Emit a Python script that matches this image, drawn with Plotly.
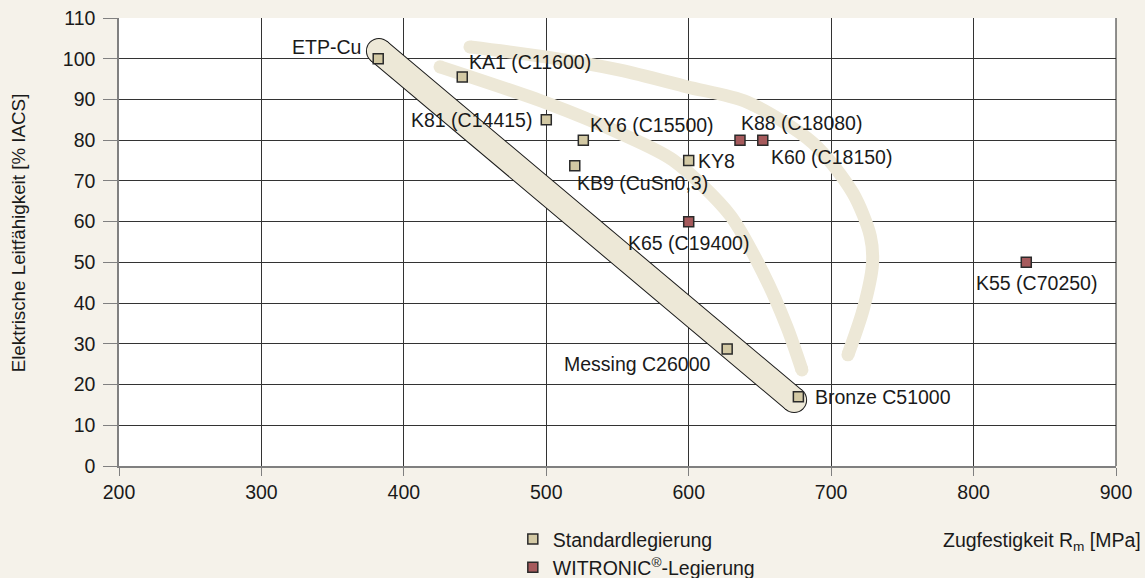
import plotly.graph_objects as go

# ---------------- data ----------------
std_names = ["ETP-Cu", "KA1 (C11600)", "K81 (C14415)", "KY6 (C15500)", "KB9 (CuSn0,3)",
             "KY8", "Messing C26000", "Bronze C51000"]
std_rm = [382, 441, 500, 526, 520, 600, 627, 677]
std_iacs = [100, 95.5, 85, 80, 73.7, 75, 28.7, 17]

wit_names = ["K88 (C18080)", "K60 (C18150)", "K65 (C19400)", "K55 (C70250)"]
wit_rm = [636, 652, 600, 837]
wit_iacs = [80, 80, 60, 50]

# decorative guide bands (data coordinates)
capsule_x = [382.5, 674]
capsule_y = [101.9, 16.2]
arc_inner_x = [425.4, 500.5, 551.8, 589.0, 629.0, 652.2, 669.0, 679.5]
arc_inner_y = [98.0, 89.1, 81.7, 75.1, 61.6, 47.4, 34.1, 23.6]
arc_outer_x = [446.4, 500.5, 551.8, 598.8, 640.9, 687.3, 715.3, 727.5, 729.0, 722.4, 711.8]
arc_outer_y = [102.9, 100.4, 97.2, 93.1, 89.4, 79.3, 67.0, 56.5, 49.5, 38.3, 27.3]

x_ticks = [200, 300, 400, 500, 600, 700, 800, 900]
y_ticks = list(range(0, 111, 10))

# ---------------- style ----------------
FONT = "Liberation Sans, Arial, sans-serif"
FS = 19.5
TXT = "#1a1a1a"
BAND = "#EDE8D7"
STD_COL = "#D3C9A4"
WIT_COL = "#A65A5C"
EDGE = "#2a2a2a"

label_pos = {
    "ETP-Cu": ("right", -15, 12),
    "KA1 (C11600)": ("left", 5, 15),
    "K81 (C14415)": ("right", -12, 0),
    "KY6 (C15500)": ("left", 5, 15),
    "KB9 (CuSn0,3)": ("left", 0, -17),
    "KY8": ("left", 7, 0),
    "Messing C26000": ("right", -15, -15),
    "Bronze C51000": ("left", 15, 0),
    "K88 (C18080)": ("left", -1, 17),
    "K60 (C18150)": ("left", 6, -17),
    "K65 (C19400)": ("center", 0, -21),
    "K55 (C70250)": ("center", 10, -21),
}

fig = go.Figure()

# capsule band with thin black outline
fig.add_trace(go.Scatter(x=capsule_x, y=capsule_y, mode="lines+markers",
                         line=dict(color="#1a1a1a", width=26),
                         marker=dict(color="#1a1a1a", size=26, symbol="circle"),
                         hoverinfo="skip", showlegend=False))
fig.add_trace(go.Scatter(x=capsule_x, y=capsule_y, mode="lines+markers",
                         line=dict(color=BAND, width=24),
                         marker=dict(color=BAND, size=24, symbol="circle"),
                         hoverinfo="skip", showlegend=False))

for ax, ay in [(arc_inner_x, arc_inner_y), (arc_outer_x, arc_outer_y)]:
    fig.add_trace(go.Scatter(x=ax, y=ay, mode="lines",
                             line=dict(color=BAND, width=13, shape="spline", smoothing=0.8),
                             hoverinfo="skip", showlegend=False))
    fig.add_trace(go.Scatter(x=[ax[0], ax[-1]], y=[ay[0], ay[-1]], mode="markers",
                             marker=dict(color=BAND, size=13, symbol="circle"),
                             hoverinfo="skip", showlegend=False))

fig.add_trace(go.Scatter(x=std_rm, y=std_iacs, mode="markers", name="Standardlegierung",
                         legendgroup="a",
                         marker=dict(symbol="square", size=10, color=STD_COL,
                                     line=dict(color=EDGE, width=1.5))))
fig.add_trace(go.Scatter(x=wit_rm, y=wit_iacs, mode="markers",
                         name="WITRONIC<sup>®</sup>-Legierung", legendgroup="b",
                         marker=dict(symbol="square", size=10, color=WIT_COL,
                                     line=dict(color=EDGE, width=1.5))))

annotations = []
for names, xs, ys in [(std_names, std_rm, std_iacs), (wit_names, wit_rm, wit_iacs)]:
    for n, xv, yv in zip(names, xs, ys):
        anc, xs_, ys_ = label_pos[n]
        annotations.append(dict(x=xv, y=yv, xref="x", yref="y", text=n, showarrow=False,
                                xanchor=anc, yanchor="middle", xshift=xs_, yshift=ys_,
                                font=dict(family=FONT, size=FS, color=TXT)))

annotations.append(dict(xref="paper", yref="paper", x=1.027, y=-0.168,
                        xanchor="right", yanchor="middle", showarrow=False,
                        text="Zugfestigkeit R<sub>m</sub> [MPa]",
                        font=dict(family=FONT, size=FS, color=TXT)))
annotations.append(dict(xref="paper", yref="paper", x=-0.101, y=0.52,
                        xanchor="center", yanchor="middle", showarrow=False, textangle=-90,
                        text="Elektrische Leitfähigkeit [% IACS]",
                        font=dict(family=FONT, size=18.8, color=TXT)))

fig.update_layout(
    width=1145, height=578,
    margin=dict(l=119, r=29, t=18, b=112, autoexpand=False),
    paper_bgcolor="#F5F2EA", plot_bgcolor="#FFFFFF",
    font=dict(family=FONT, size=FS, color=TXT),
    annotations=annotations,
    legend=dict(x=0.395, y=-0.12, xanchor="left", yanchor="top",
                traceorder="grouped", tracegroupgap=0,
                bgcolor="rgba(0,0,0,0)", font=dict(family=FONT, size=FS, color=TXT)),
    showlegend=True,
)
fig.update_xaxes(range=[200, 900], tickvals=x_ticks, showgrid=True, gridcolor="#333333",
                 gridwidth=1, showline=True, linecolor="#808080", linewidth=1.5,
                 mirror=False, ticks="outside", ticklen=8, tickcolor="#808080",
                 zeroline=False, automargin=False,
                 tickfont=dict(family=FONT, size=FS, color=TXT))
fig.update_yaxes(range=[0, 110], tickvals=y_ticks, showgrid=True, gridcolor="#333333",
                 gridwidth=1, showline=True, linecolor="#808080", linewidth=1.5,
                 ticks="outside", ticklen=14, tickcolor="#808080", zeroline=False,
                 ticklabelstandoff=4, automargin=False,
                 tickfont=dict(family=FONT, size=FS, color=TXT))
# right border of plot area
fig.add_shape(type="line", xref="paper", yref="paper", x0=1, x1=1, y0=0, y1=1,
              line=dict(color="#222222", width=1))

fig.write_html("out.html", post_script="document.body.style.margin='0';",
               config={"displayModeBar": False})
